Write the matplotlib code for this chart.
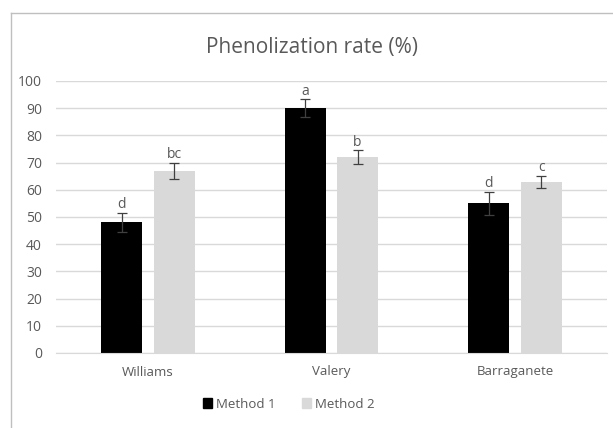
import numpy as np
import matplotlib.pyplot as plt
from matplotlib.lines import Line2D

plt.rcParams['font.family'] = ['Open Sans', 'DejaVu Sans']

# data
varieties = ["Williams", "Valery", "Barraganete"]
method1 = [48, 90, 55]
method2 = [67, 72, 63]
err1 = [3.6, 3.2, 4.2]
err2 = [2.9, 2.5, 2.2]
letters1 = ["d", "a", "d"]
letters2 = ["bc", "b", "c"]

fig = plt.figure(figsize=(6.13, 4.28), dpi=100)
ax = fig.add_axes([56 / 613, 1 - 353 / 428, (606.7 - 56) / 613, (353 - 81) / 428])

x = np.arange(len(varieties))
w = 0.223
off = (w + 0.063) / 2
grey_txt = '#595959'

ax.bar(x - off, method1, w, color='black', zorder=2, label='Method 1')
ax.bar(x + off, method2, w, color='#d9d9d9', zorder=2, label='Method 2')
ax.errorbar(x - off, method1, yerr=err1, fmt='none', ecolor='#404040',
            elinewidth=0.9, capsize=3.5, capthick=0.9, zorder=3)
ax.errorbar(x + off, method2, yerr=err2, fmt='none', ecolor='#404040',
            elinewidth=0.9, capsize=3.5, capthick=0.9, zorder=3)

# significance letters
for i in range(len(varieties)):
    ax.text(x[i] - off, method1[i] + err1[i] + 0.3, letters1[i], ha='center',
            va='bottom', fontsize=10, color=grey_txt)
    ax.text(x[i] + off, method2[i] + err2[i] + 0.3, letters2[i], ha='center',
            va='bottom', fontsize=10, color=grey_txt)

ax.set_xlim(-0.5, 2.5)
ax.set_ylim(0, 100)
ax.set_yticks(range(0, 101, 10))
ax.set_xticks(x)
ax.set_xticklabels(varieties)
ax.yaxis.grid(True, color='#d9d9d9', linewidth=1)
ax.set_axisbelow(True)
for s in ['top', 'right', 'left']:
    ax.spines[s].set_visible(False)
ax.spines['bottom'].set_color('#d9d9d9')
ax.tick_params(axis='both', length=0, labelsize=9.5, colors=grey_txt)
ax.tick_params(axis='y', labelsize=10, pad=10)
ax.tick_params(axis='x', pad=9)

fig.text(312 / 613, 1 - 47 / 428, "Phenolization rate (%)", ha='center',
         va='center', fontsize=15, color=grey_txt)

handles = [plt.Rectangle((0, 0), 1, 1, color='black'),
           plt.Rectangle((0, 0), 1, 1, color='#d9d9d9')]
fig.legend(handles, ['Method 1', 'Method 2'], loc='center',
           bbox_to_anchor=(289 / 613, 1 - 404 / 428), ncol=2, frameon=False,
           fontsize=9.5, labelcolor=grey_txt, handlelength=0.7,
           handleheight=0.7, handletextpad=0.3, columnspacing=2.0)

# chart frame (top and left edges visible)
fig.add_artist(Line2D([10.5 / 613, 1], [1 - 13 / 428, 1 - 13 / 428],
                      color='#bfbfbf', linewidth=1))
fig.add_artist(Line2D([10.5 / 613, 10.5 / 613], [0, 1 - 13 / 428],
                      color='#bfbfbf', linewidth=1))

fig.savefig('out.png', dpi=100)
